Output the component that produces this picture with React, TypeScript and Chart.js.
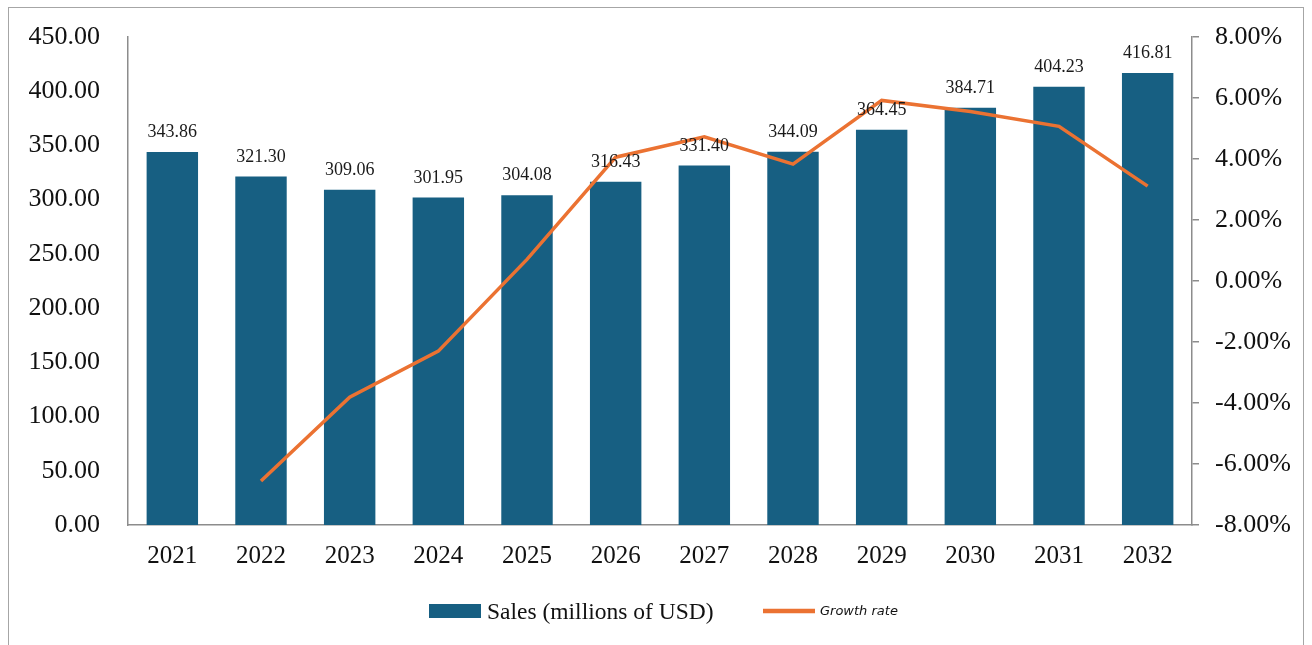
import React, { useEffect, useRef } from "react";
import { Chart, registerables } from "chart.js";

Chart.register(...registerables);

const years = ["2021", "2022", "2023", "2024", "2025", "2026", "2027", "2028", "2029", "2030", "2031", "2032"];
const sales = [343.86, 321.3, 309.06, 301.95, 304.08, 316.43, 331.4, 344.09, 364.45, 384.71, 404.23, 416.81];
const growth = [null, -6.56, -3.81, -2.3, 0.71, 4.06, 4.73, 3.83, 5.92, 5.56, 5.07, 3.11];
const salesLabel = "Sales (millions of USD)";
const growthLabel = "Growth rate";

const BAR = "#175F82";
const ORANGE = "#EB7232";
const AXIS = "#8C8C8C";
const SERIF = "'Liberation Serif', 'Times New Roman', serif";

const dataLabels = {
  id: "dataLabels",
  afterDatasetsDraw(chart: any) {
    const ctx = chart.ctx;
    const meta = chart.getDatasetMeta(1);
    ctx.save();
    ctx.font = `18px ${SERIF}`;
    ctx.fillStyle = "#1a1a1a";
    ctx.textAlign = "center";
    ctx.textBaseline = "alphabetic";
    meta.data.forEach((el: any, i: number) => {
      ctx.fillText(sales[i].toFixed(2), el.x, el.y - 15);
    });
    ctx.restore();
  },
};

const customLegend = {
  id: "customLegend",
  afterDraw(chart: any) {
    const ctx = chart.ctx;
    ctx.save();
    ctx.fillStyle = BAR;
    ctx.fillRect(429, 604, 52, 14);
    ctx.fillStyle = "#111";
    ctx.font = `23.5px ${SERIF}`;
    ctx.textAlign = "left";
    ctx.textBaseline = "alphabetic";
    ctx.fillText(salesLabel, 487, 619);
    ctx.strokeStyle = ORANGE;
    ctx.lineWidth = 4.5;
    ctx.beginPath();
    ctx.moveTo(763, 611);
    ctx.lineTo(815, 611);
    ctx.stroke();
    ctx.font = `italic 13px 'DejaVu Sans', sans-serif`;
    ctx.fillStyle = "#111";
    ctx.fillText(growthLabel, 820, 615);
    ctx.restore();
  },
};

const fitY = (w: number) => (s: any) => {
  s.width = w;
  s.paddingTop = 0;
  s.paddingBottom = 0;
};

export default function App() {
  const ref = useRef<HTMLCanvasElement>(null);
  useEffect(() => {
    if (!ref.current) return;
    const chart = new Chart(ref.current, {
      data: {
        labels: years,
        datasets: [
          {
            type: "line",
            label: growthLabel,
            data: growth as any,
            yAxisID: "y1",
            borderColor: ORANGE,
            borderWidth: 3.5,
            pointRadius: 0,
            tension: 0,
            order: 0,
          },
          {
            type: "bar",
            label: salesLabel,
            data: sales,
            yAxisID: "y",
            backgroundColor: BAR,
            categoryPercentage: 1,
            barPercentage: 0.58,
            order: 1,
          },
        ],
      } as any,
      options: {
        animation: false,
        responsive: false,
        layout: { padding: { top: 37, left: 0, right: 0, bottom: 0 } },
        plugins: { legend: { display: false }, tooltip: { enabled: false } },
        scales: {
          x: {
            grid: { display: false, drawTicks: false },
            border: { display: true, color: AXIS, width: 1.5 },
            ticks: { font: { family: SERIF, size: 25 }, color: "#111", padding: 16, maxRotation: 0 },
            afterFit: (s: any) => { s.height = 120; },
          },
          y: {
            position: "left",
            min: 0,
            max: 450,
            grid: { display: false, drawTicks: false },
            border: { display: true, color: AXIS, width: 1.5 },
            ticks: {
              stepSize: 50,
              font: { family: SERIF, size: 26 },
              color: "#111",
              padding: 28,
              callback: (v: any) => Number(v).toFixed(2),
            },
            afterFit: fitY(128),
          },
          y1: {
            position: "right",
            min: -8,
            max: 8,
            grid: { display: true, drawOnChartArea: false, drawTicks: true, tickLength: 7, color: AXIS, lineWidth: 1.5 },
            border: { display: true, color: AXIS, width: 1.5 },
            ticks: {
              stepSize: 2,
              font: { family: SERIF, size: 26 },
              color: "#111",
              padding: 16,
              callback: (v: any) => Number(v).toFixed(2) + "%",
            },
            afterFit: fitY(120),
          },
        },
      } as any,
      plugins: [dataLabels, customLegend],
    });
    return () => chart.destroy();
  }, []);

  return (
    <div style={{ position: "fixed", left: 0, top: 0, width: 1312, height: 645, background: "#fff" }}>
      <div
        style={{
          position: "absolute",
          left: 8,
          top: 7,
          width: 1296,
          height: 700,
          border: "1px solid #A6A6A6",
          boxSizing: "border-box",
        }}
      />
      <canvas
        ref={ref}
        width={1312}
        height={645}
        style={{ position: "absolute", left: 0, top: 0, width: 1312, height: 645 }}
      />
    </div>
  );
}
